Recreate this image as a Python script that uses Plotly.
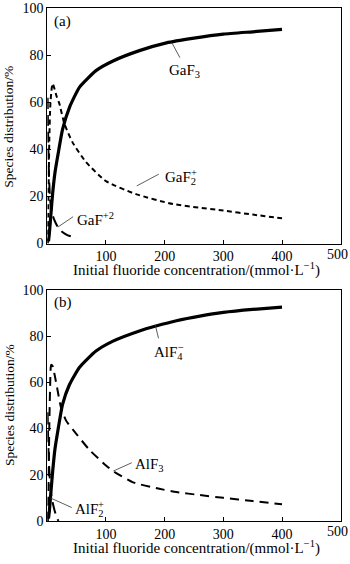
import plotly.graph_objects as go

# ---------------- data: panel (a) Ga system ----------------
gaf3_x = [2, 3.4, 6, 9, 13, 18, 26, 38, 55, 83, 112, 157, 203, 250, 300, 350, 400]
gaf3_y = [1, 4, 12, 21, 30, 37.5, 48.5, 58, 66.5, 73.5, 77.6, 82, 85.3, 87.3, 89, 90, 91]

gaf2_x = [1, 2, 3.5, 5, 7, 9, 12, 16, 20.5, 29, 43, 66, 100, 151, 214, 300, 350, 400]
gaf2_y = [0, 20, 45, 58, 65, 68, 66, 62.5, 59.5, 51, 43, 34.6, 26.5, 21, 16.8, 14, 12.3, 10.7]

gaf_x = [0.5, 1.5, 3, 5, 8, 12, 18, 25, 35, 50]
gaf_y = [62, 45, 28, 18, 13, 10, 7, 5, 3.5, 2.5]

# ---------------- data: panel (b) Al system ----------------
alf4_x = [2, 3.4, 6, 9, 13, 18, 26, 37.5, 55, 83, 112, 157, 185, 220, 260, 300, 350, 400]
alf4_y = [1, 4, 12, 21, 31, 39, 50.4, 58.8, 66.5, 73.5, 77.8, 82.2, 84.3, 86.6, 88.6, 90.2, 91.5, 92.5]

alf3_x = [1, 2, 3.5, 5, 6.5, 9, 14.8, 23.4, 32, 49, 72, 100, 112, 146, 191, 220, 260, 300, 350, 400]
alf3_y = [0, 15, 42, 60, 67.5, 67, 60.2, 49, 43.4, 37.8, 30.7, 24, 21.6, 16.7, 13.9, 12.5, 11.2, 10, 8.6, 7.2]

alf2_x = [0.5, 1.5, 3, 5, 7, 10, 13, 16, 19]
alf2_y = [47, 35, 24, 16, 11, 7, 4, 1.5, 0]

x_ticks = [100, 200, 300, 400, 500]
x_ticktext = ["100", "200", "300", "400", ""]   # "500" drawn separately so it stays inside the page
x_last_label = "500"
y_ticks = [0, 20, 40, 60, 80, 100]

FONT = "Liberation Serif"
W, H = 350, 564
XSCALE = 0.586   # px per data unit (x)

fig = go.Figure()

def add(x, y, xa, ya, width, dash):
    fig.add_trace(go.Scatter(x=x, y=y, mode="lines", xaxis=xa, yaxis=ya,
                             line=dict(color="black", width=width, dash=dash,
                                       shape="spline", smoothing=0.5),
                             showlegend=False, hoverinfo="skip"))

add(gaf3_x, gaf3_y, "x", "y", 3.2, "solid")
add(gaf2_x, gaf2_y, "x", "y", 2, "5px,3.5px")
add(gaf_x, gaf_y, "x", "y", 2, "11px,6px")

add(alf4_x, alf4_y, "x2", "y2", 3.2, "solid")
add(alf3_x, alf3_y, "x2", "y2", 2, "9px,6px")
add(alf2_x, alf2_y, "x2", "y2", 2, "12px,6px")

def py(p):
    return 1 - p / H

def px(p):
    return p / W

xdom = [px(47.3), px(340.7)]
line_common = dict(showline=True, mirror=True, linecolor="black", linewidth=1,
                   ticks="inside", ticklen=4, tickcolor="black", showgrid=False,
                   zeroline=False)
TICKSIZE = 14
xaxis_common = dict(line_common, tickfont=dict(family=FONT, size=TICKSIZE, color="black"),
                    tickvals=x_ticks, ticktext=x_ticktext)
yaxis_common = dict(line_common, tickfont=dict(family=FONT, size=TICKSIZE, color="black"),
                    tickvals=y_ticks)

fig.update_layout(
    width=W, height=H, margin=dict(l=0, r=0, t=0, b=0),
    paper_bgcolor="white", plot_bgcolor="white",
    xaxis=dict(domain=xdom, range=[0, 500], anchor="y", **xaxis_common),
    yaxis=dict(domain=[py(243), py(1.3)], range=[0, 100], anchor="x", **yaxis_common),
    xaxis2=dict(domain=xdom, range=[0, 500], anchor="y2", **xaxis_common),
    yaxis2=dict(domain=[py(528), py(290.5)], range=[0, 100], anchor="x2", **yaxis_common),
)

ann = []
shapes = []

def text(x, y, t, xr, yr, size=15, xanchor="left", yanchor="middle"):
    ann.append(dict(x=x, y=y, xref=xr, yref=yr, text=t, showarrow=False,
                    xanchor=xanchor, yanchor=yanchor,
                    font=dict(family=FONT, size=size, color="black")))

def leader(x0, y0, x1, y1, xr, yr):
    shapes.append(dict(type="line", x0=x0, y0=y0, x1=x1, y1=y1, xref=xr, yref=yr,
                       line=dict(color="#333333", width=0.8)))

def stacked(x, y, base, sub, sup, base_em, xr, yr, size=15, ydu=2.4):
    # base text with subscript, plus a superscript stacked over the subscript
    text(x, y, base + "<sub>" + sub + "</sub>", xr, yr, size)
    dx = (base_em * size + 0.5) / XSCALE
    text(x + dx, y + 5.5 / ydu, sup, xr, yr, size * 0.7)

# last x tick label, kept inside the page's right edge
for yax in ("y domain", "y2 domain"):
    ann.append(dict(x=1, y=0, xref="paper", yref=yax, yshift=-1, text=x_last_label,
                    showarrow=False, xanchor="right", yanchor="top",
                    font=dict(family=FONT, size=TICKSIZE, color="black")))

# axis titles
xt = "Initial fluoride concentration/(mmol·L<sup>−1</sup>)"
yt = "Species distribution/%"
text(px(196), py(270), xt, "paper", "paper", 15, "center")
text(px(196), py(555), xt, "paper", "paper", 15, "center")
for yc in (123, 409):
    ann.append(dict(x=px(9), y=py(yc), xref="paper", yref="paper", text=yt, textangle=-90,
                    xanchor="center", yanchor="middle", showarrow=False,
                    font=dict(family=FONT, size=13.5, color="black")))

# panel labels
text(8, 94.5, "(a)", "x", "y", 15)
text(8, 94.5, "(b)", "x2", "y2", 15)

# species labels (a)
text(204, 73.5, "GaF<sub>3</sub>", "x", "y", 15)
leader(212, 85.5, 226, 79, "x", "y")
stacked(197, 28, "GaF", "2", "+", 1.722, "x", "y")
leader(152.5, 24.5, 190, 29.5, "x", "y")
text(47, 10.5, "GaF<sup>+2</sup>", "x", "y", 15)
leader(18, 7, 44, 11.4, "x", "y")

# species labels (b)
stacked(178, 72.5, "AlF", "4", "−", 1.556, "x2", "y2", ydu=2.375)
leader(184, 84.8, 189.5, 79, "x2", "y2")
text(146, 24.2, "AlF<sub>3</sub>", "x2", "y2", 15)
leader(112.6, 21.6, 144, 25.2, "x2", "y2")
stacked(43, 4.8, "AlF", "2", "+", 1.556, "x2", "y2", ydu=2.375)
leader(5, 10, 41.6, 5.8, "x2", "y2")

fig.update_layout(annotations=ann, shapes=shapes)
fig.write_html("out.html")
